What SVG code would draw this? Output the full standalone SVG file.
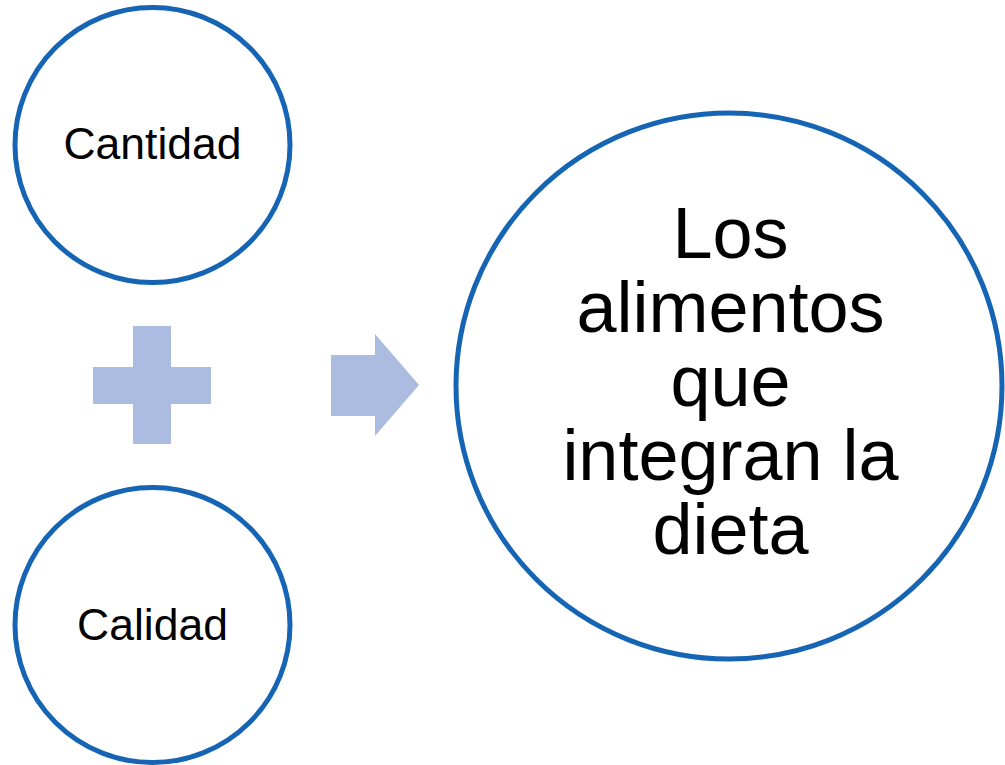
<svg xmlns="http://www.w3.org/2000/svg" width="1005" height="765" viewBox="0 0 1005 765">
<style>
.node{fill:#FFFFFF;stroke:#1565B4;stroke-width:5}
.sym{fill:#ACBCE0}
.lbl{font-family:"Liberation Sans",Arial,sans-serif;fill:#000000;text-anchor:middle}
</style>
<rect width="1005" height="765" fill="#FFFFFF"/>
<g id="cantidad">
<circle class="node" cx="152.5" cy="145" r="137.5"/>
<text class="lbl" x="152.5" y="159" font-size="44.5">Cantidad</text>
</g>
<g id="calidad">
<circle class="node" cx="152.5" cy="625" r="137.5"/>
<text class="lbl" x="152.5" y="640" font-size="44.5">Calidad</text>
</g>
<g id="connectors">
<path id="plus" class="sym" d="M133 326H171V367H211V404H171V444H133V404H93V367H133Z"/>
<path id="arrow" class="sym" d="M331 355H375V334L419 385L375 436V416H331Z"/>
</g>
<g id="alimentos">
<circle class="node" cx="729" cy="386" r="273"/>
<text class="lbl" font-size="72"><tspan x="730.5" y="258">Los</tspan><tspan x="730.5" y="332">alimentos</tspan><tspan x="730.5" y="406">que</tspan><tspan x="730.5" y="480">integran la</tspan><tspan x="730.5" y="554">dieta</tspan></text>
</g>
</svg>
